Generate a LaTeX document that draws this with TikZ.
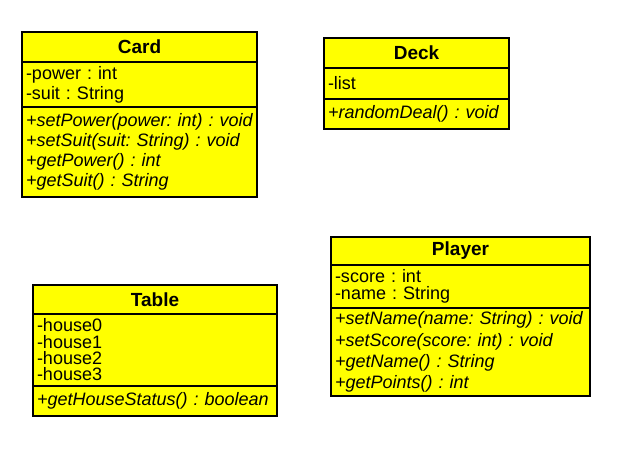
\documentclass[tikz,border=0pt]{standalone}
\usepackage{fontspec}
\setmainfont{Liberation Sans}
\usetikzlibrary{positioning}
\definecolor{classyellow}{RGB}{255,255,0}
\frenchspacing

\begin{document}
\begin{tikzpicture}[x=1pt,y=-1pt,
  head/.style={draw,fill=classyellow,line width=1.3pt,outer sep=0pt,inner sep=0pt,anchor=north west,align=center,font=\bfseries\fontsize{19}{20}\selectfont},
  sect/.style={draw,fill=classyellow,line width=1.3pt,outer sep=0pt,inner xsep=4pt,inner ysep=0pt,align=left,font=\fontsize{18}{#1}\selectfont},
  ops/.style={sect=#1,font=\fontsize{18}{#1}\selectfont\itshape}]
\useasboundingbox (0,0) rectangle (623,473);
% Card
\node (card) [head,minimum width=235pt,minimum height=30pt] at (22,32) {Card};
\node (cardattr) [sect=20pt,below=0pt of card,text width=227pt,minimum height=45pt] {-power : int\\-suit : String};
\node (cardops) [ops=20pt,below=0pt of cardattr,text width=227pt,minimum height=90pt] {+setPower(power: int) : void\\+setSuit(suit: String) : void\\+getPower() : int\\+getSuit() : String};
% Deck
\node (deck) [head,minimum width=185pt,minimum height=30pt] at (324,38) {Deck};
\node (deckattr) [sect=20pt,below=0pt of deck,text width=177pt,minimum height=31pt] {-list};
\node (deckops) [ops=20pt,below=0pt of deckattr,text width=177pt,minimum height=30pt] {+randomDeal() : void};
% Table
\node (table) [head,minimum width=244pt,minimum height=29pt] at (33,285) {Table};
\node (tableattr) [sect=16.3pt,below=0pt of table,text width=236pt,minimum height=72pt] {-house0\\-house1\\-house2\\-house3};
\node (tableops) [ops=20pt,below=0pt of tableattr,text width=236pt,minimum height=30pt] {+getHouseStatus() : boolean};
% Player
\node (player) [head,minimum width=259pt,minimum height=28pt] at (331,237) {Player};
\node (playerattr) [sect=16.5pt,below=0pt of player,text width=251pt,minimum height=43pt] {-score : int\\-name : String};
\node (playerops) [ops=21.3pt,below=0pt of playerattr,text width=251pt,minimum height=88pt] {+setName(name: String) : void\\+setScore(score: int) : void\\+getName() : String\\+getPoints() : int};
\end{tikzpicture}
\end{document}
